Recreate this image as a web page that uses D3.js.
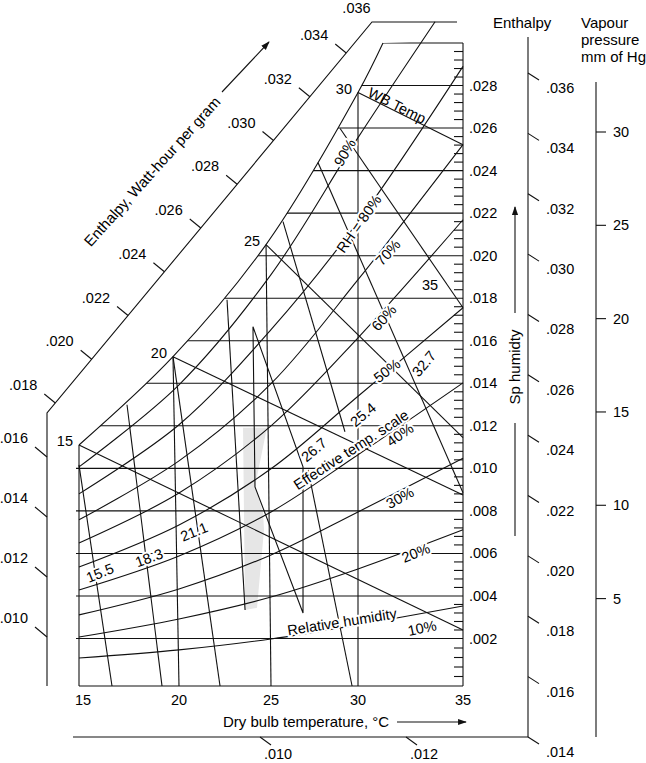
<!DOCTYPE html>
<html><head><meta charset="utf-8">
<script src="https://cdn.jsdelivr.net/npm/d3@7"></script>
<style>
body{margin:0;background:#fff}
text{font-family:"Liberation Sans",Arial,Helvetica,sans-serif;fill:#000}
</style>
</head><body>
<svg id="c" width="646" height="763"></svg>
<script>
// ---------------- DATA ----------------
const dbTicks = [15, 20, 25, 30, 35];
const shTicks = [0.002,0.004,0.006,0.008,0.010,0.012,0.014,0.016,0.018,0.020,0.022,0.024,0.026,0.028];
const shTop = 0.030;
const enthLeftTicks = [0.010, 0.012, 0.014, 0.016];
const enthDiagTicks = [0.018,0.020,0.022,0.024,0.026,0.028,0.030,0.032,0.034];
const enthDiagTopLabel = 0.036;
const enthRightTicks = [0.014,0.016,0.018,0.020,0.022,0.024,0.026,0.028,0.030,0.032,0.034,0.036];
const enthBottomTicks = [0.010, 0.012];
const vpTicks = [5, 10, 15, 20, 25, 30];

// saturation curve (dry bulb °C, sp. humidity)
const satCurve = [[15,0.0111],[19.7,0.01525],[24.73,0.02052],[30,0.02767],[31.19,0.030]];
// dry bulb lines (bottom -> saturation)
const dbLines = [
  [[20,0],[19.7,0.01525]],
  [[25,0],[24.73,0.02052]],
  [[30,0],[30,0.02767]]
];
// relative humidity curves
const rh10 = [[15,0.00118],[20,0.00152],[25,0.00198],[30,0.00264],[35,0.00353]];
const rh20 = [[15,0.00207],[20,0.00292],[25,0.00395],[30,0.00527],[35,0.00711]];
const rh30 = [[15,0.00311],[20,0.00433],[25,0.00593],[30,0.00795],[35,0.01047]];
const rh40 = [[15,0.00428],[20,0.00588],[25,0.00795],[30,0.01064],[35,0.01402]];
const rh50 = [[15,0.00536],[20,0.00734],[25,0.00998],[30,0.01339],[35,0.01755]];
const rh60 = [[15,0.00649],[20,0.00884],[25,0.01200],[30,0.01614],[35,0.02169]];
const rh70 = [[15,0.00758],[20,0.01035],[25,0.01398],[30,0.01887],[35,0.02522]];
const rh80 = [[15,0.00880],[20,0.01205],[25,0.01652],[30,0.02160],[35,0.02890]];
const rh90 = [[15,0.01007],[20,0.01393],[25,0.01911],[30,0.02555],[33.67,0.0310]];
const rhCurves = [rh10,rh20,rh30,rh40,rh50,rh60,rh70,rh80,rh90];

// wet bulb lines: start on saturation, end on right edge
const wbLines = [
  {label:"15", from:[15,0.0111],    to:[35,0.0024]},
  {label:"20", from:[19.7,0.01525], to:[35,0.00875]},
  {label:"25", from:[24.73,0.02052],to:[35,0.01144]},
  {label:"30", from:[30,0.02767],   to:[35,0.02522]}
];
// effective temperature lines and comfort zone outline
const etLines = [
  [[15,0.01016],[16.65,0]],
  [[17.4,0.01299],[19.15,0]],
  [[19.7,0.01525],[22.23,0]],
  [[22.61,0.01793],[23.59,0.00334]],
  [[27.13,0.00993],[29.66,0]],
  [[25.69,0.0216],[29.25,0.01172]],
  [[27.7,0.02438],[35,0.00885]],
  [[28.97,0.02598],[35,0.01755]]
];
const comfortZone = [[24.02,0.01666],[26.84,0.01007],[26.84,0.0032],[24.13,0.00913]];
const shadeZone = [[23.48,0.01191],[24.78,0.01191],[24.13,0.00913],[24.57,0.00790],[24.62,0.00711],[24.24,0.00344],[23.59,0.00334]];

// chart annotations [text, dryBulb, spHumidity, angle]
const rhLabels = [
  ["90%",29.25,0.02485,-60],["RH = 80%",30.05,0.0215,-55],["70%",31.43,0.02014,-48],
  ["60%",31.24,0.01708,-48],["50%",31.38,0.01459,-37],["40%",32.0,0.01158,-35],
  ["30%",32.0,0.00861,-28],["20%",32.76,0.00602,-22],["10%",33.05,0.00249,-12]
];
const etLabels = [
  ["15.5",16.05,0.00508,-22],["18.3",18.5,0.00579,-20],["21.1",20.82,0.00701,-22],
  ["26.7",27.47,0.01087,-40],["25.4",30.24,0.01252,-40],["32.7",33.14,0.01492,-50],["35",33.43,0.01864,0]
];
const textLabels = [
  ["Effective temp. scale",29.6,0.01087,-33],
  ["Relative humidity",29.08,0.00278,-9]
];
const wbTitle = ["WB Temp",31.86,0.02706,26.6];

// ---------------- SCALES ----------------
const svg = d3.select("#c");
const x = d3.scaleLinear().domain(dbTicks).range([79,179,271,358,463]);
const y = d3.scaleLinear().domain([0,0.002,0.030]).range([686,638.5,43]);
const font = 14.5;
const ink = "#111";
const line = d3.line().x(d=>x(d[0])).y(d=>y(d[1]));
const curve = d3.line().x(d=>x(d[0])).y(d=>y(d[1])).curve(d3.curveCatmullRom.alpha(0.5));

const g = svg.append("g").attr("fill","none").attr("stroke",ink).attr("stroke-width",1.1);

const satPath = curve(satCurve);
const xL = x(15), xR = x(35), yB = y(0), yT = y(shTop);
svg.append("clipPath").attr("id","clip").append("path")
  .attr("d", satPath + `L${xR+3},${yT-3}L${xR+3},${yB+3}L${xL-3},${yB+3}L${xL-3},${y(satCurve[0][1])}Z`);

// shaded zone
g.append("path").datum(shadeZone).attr("d", d=>line(d)+"Z").attr("fill","#e6e6e6").attr("stroke","none");

const cg = g.append("g").attr("clip-path","url(#clip)");
cg.selectAll("line.h").data(shTicks.concat([shTop])).join("line")
  .attr("x1",xL-5).attr("x2",xR).attr("y1",d=>y(d)).attr("y2",d=>y(d));
g.selectAll("path.db").data(dbLines).join("path").attr("d",line);

// frame
g.append("path").attr("d", satPath);
g.append("line").attr("x1",xL).attr("x2",xL).attr("y1",y(satCurve[0][1])).attr("y2",yB);
g.append("line").attr("x1",xL).attr("x2",xR).attr("y1",yB).attr("y2",yB);
g.append("line").attr("x1",xR).attr("x2",xR).attr("y1",yT).attr("y2",yB);

// minor ticks on right edge
const minor = d3.range(1,75).map(i=>i*0.0004).filter(v=>Math.abs(v/0.002-Math.round(v/0.002))>0.01);
g.selectAll("line.mt").data(minor).join("line")
  .attr("x1",xR-9).attr("x2",xR).attr("y1",d=>y(d)).attr("y2",d=>y(d));

g.selectAll("path.rh").data(rhCurves).join("path").attr("d",curve);
g.selectAll("line.wb").data(wbLines).join("line")
  .attr("x1",d=>x(d.from[0])).attr("y1",d=>y(d.from[1]))
  .attr("x2",d=>x(d.to[0])).attr("y2",d=>y(d.to[1]));
g.selectAll("path.et").data(etLines).join("path").attr("d",line);
g.append("path").datum(comfortZone).attr("d",d=>line(d)+"Z");

// ---------- labels inside chart ----------
function halo(sel){ sel.attr("stroke","#fff").attr("stroke-width",4).attr("paint-order","stroke").attr("stroke-linejoin","round"); }
const tl = svg.append("g").attr("font-size",font);
function place(arr, useHalo){
  arr.forEach(a=>{
    const t = tl.append("text").attr("text-anchor","middle").attr("dominant-baseline","central")
      .attr("transform",`translate(${x(a[1])},${y(a[2])}) rotate(${a[3]})`).text(a[0]);
    if(useHalo) halo(t);
  });
}
place(rhLabels,true); place(etLabels,true); place(textLabels,true);
place([wbTitle],false);
wbLines.forEach(d=>{
  tl.append("text").attr("text-anchor","end").attr("x",x(d.from[0])-6).attr("y",y(d.from[1])+1).text(d.label);
});

tl.selectAll("text.sh").data(shTicks).join("text")
  .attr("x",xR+6).attr("y",d=>y(d)).attr("dominant-baseline","central")
  .text(d=>d3.format(".3f")(d).replace(/^0/,""));
tl.selectAll("text.db").data(dbTicks).join("text")
  .attr("x",d=>x(d)+(d===15?4:0)).attr("y",yB+19).attr("text-anchor","middle").text(d=>d);
tl.append("text").attr("x",223).attr("y",yB+41).attr("font-size",15).text("Dry bulb temperature, °C");
const defs = svg.append("defs");
defs.append("marker").attr("id","arr").attr("viewBox","0 0 10 10").attr("refX",9).attr("refY",5)
  .attr("markerWidth",8).attr("markerHeight",8).attr("orient","auto")
  .append("path").attr("d","M0,1.5L10,5L0,8.5Z").attr("fill",ink);
svg.append("line").attr("x1",397).attr("x2",466).attr("y1",yB+36).attr("y2",yB+36)
  .attr("stroke",ink).attr("stroke-width",1.1).attr("marker-end","url(#arr)");

// ---------- left enthalpy scale (vertical + diagonal) ----------
const hv = d3.scaleLinear().domain([0.010,0.016]).range([637,457]);
const bend = [47, 413], topC = [372, 22];
const hd = d3.scaleLinear().domain([0.018,0.034]).range([403,53]);
const diagX = yy => bend[0] + (bend[1]-yy)*(topC[0]-bend[0])/(bend[1]-topC[1]);
const eg = svg.append("g").attr("stroke",ink).attr("stroke-width",1.1).attr("fill","none");
eg.append("path").attr("d",`M${bend[0]},${yB}L${bend[0]},${bend[1]}L${topC[0]},${topC[1]}L${xR-6},${topC[1]}`);
eg.selectAll("line.lv").data(enthLeftTicks).join("line")
  .attr("x1",bend[0]).attr("y1",d=>hv(d)).attr("x2",bend[0]-12).attr("y2",d=>hv(d)-10);
eg.selectAll("line.ld").data(enthDiagTicks).join("line")
  .attr("x1",d=>diagX(hd(d))).attr("y1",d=>hd(d)).attr("x2",d=>diagX(hd(d))-11).attr("y2",d=>hd(d)-9);
tl.selectAll("text.lv").data(enthLeftTicks).join("text").attr("text-anchor","end")
  .attr("x",bend[0]-19).attr("y",d=>hv(d)-10-4).text(d=>d3.format(".3f")(d).replace(/^0/,""));
tl.selectAll("text.ld").data(enthDiagTicks).join("text").attr("text-anchor","end")
  .attr("x",d=>diagX(hd(d))-18).attr("y",d=>hd(d)-9-4).text(d=>d3.format(".3f")(d).replace(/^0/,""));
tl.append("text").attr("text-anchor","end").attr("x",diagX(hd(enthDiagTopLabel))-12).attr("y",13)
  .text(d3.format(".3f")(enthDiagTopLabel).replace(/^0/,""));
tl.append("text").attr("font-size",15).attr("text-anchor","middle")
  .attr("transform","translate(156,175) rotate(-48)").text("Enthalpy, Watt-hour per gram");
svg.append("line").attr("x1",222).attr("y1",92).attr("x2",269).attr("y2",42)
  .attr("stroke",ink).attr("stroke-width",1.1).attr("marker-end","url(#arr)");

// ---------- right enthalpy scale ----------
const hr = d3.scaleLinear().domain([0.014,0.036]).range([737,73]);
const xE = 528;
eg.append("line").attr("x1",xE).attr("x2",xE).attr("y1",37).attr("y2",hr(0.014));
eg.selectAll("line.rt").data(enthRightTicks).join("line")
  .attr("x1",xE).attr("y1",d=>hr(d)).attr("x2",xE+11).attr("y2",d=>hr(d)+7);
tl.selectAll("text.rt").data(enthRightTicks).join("text")
  .attr("x",xE+18).attr("y",d=>Math.min(hr(d)+20,757)).text(d=>d3.format(".3f")(d).replace(/^0/,""));
tl.append("text").attr("x",493).attr("y",28).attr("font-size",15).text("Enthalpy");

// ---------- bottom enthalpy scale ----------
const hb = d3.scaleLinear().domain([0.010,0.012]).range([260,406]);
eg.append("line").attr("x1",73).attr("x2",xE).attr("y1",hr(0.014)).attr("y2",hr(0.014));
eg.selectAll("line.bt").data(enthBottomTicks).join("line")
  .attr("x1",d=>hb(d)).attr("y1",hr(0.014)).attr("x2",d=>hb(d)+11).attr("y2",hr(0.014)+8);
tl.selectAll("text.bt").data(enthBottomTicks).join("text").attr("text-anchor","middle")
  .attr("x",d=>hb(d)+18).attr("y",hr(0.014)+22).text(d=>d3.format(".3f")(d).replace(/^0/,""));

// ---------- vapour pressure scale ----------
const vp = d3.scaleLinear().domain([5,30]).range([598.6,132]);
const xV = 596;
eg.append("line").attr("x1",xV).attr("x2",xV).attr("y1",82).attr("y2",hr(0.014));
eg.selectAll("line.vp").data(vpTicks).join("line")
  .attr("x1",xV).attr("x2",xV+10).attr("y1",d=>vp(d)).attr("y2",d=>vp(d));
tl.selectAll("text.vp").data(vpTicks).join("text")
  .attr("x",xV+17).attr("y",d=>vp(d)).attr("dominant-baseline","central").text(d=>d);
[["Vapour",28],["pressure",45],["mm of Hg",62]].forEach(a=>
  tl.append("text").attr("x",581).attr("y",a[1]).attr("font-size",15).text(a[0]));

// ---------- Sp humidity axis title ----------
tl.append("text").attr("font-size",15).attr("text-anchor","middle").attr("dominant-baseline","central")
  .attr("transform","translate(514,367) rotate(-90)").text("Sp humidty");
svg.append("line").attr("x1",515).attr("x2",515).attr("y1",313).attr("y2",207)
  .attr("stroke",ink).attr("stroke-width",1.1).attr("marker-end","url(#arr)");
svg.append("line").attr("x1",515).attr("x2",515).attr("y1",423).attr("y2",536)
  .attr("stroke",ink).attr("stroke-width",1.1);
</script>
</body></html>
